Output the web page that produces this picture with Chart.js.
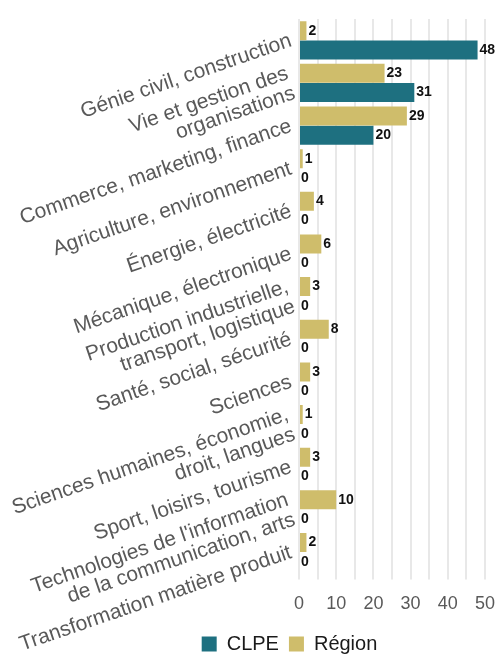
<!DOCTYPE html>
<html>
<head>
<meta charset="utf-8">
<script src="https://cdn.jsdelivr.net/npm/chart.js@4.4.1/dist/chart.umd.min.js"></script>
<style>
  html, body { margin: 0; padding: 0; background: #fff; }
  #wrap { width: 497px; height: 657px; position: relative; }
</style>
</head>
<body>
<div id="wrap"><canvas id="myChart"></canvas></div>
<script>
'use strict';

const categories = [
    'Génie civil, construction',
    ['Vie et gestion des', 'organisations'],
    'Commerce, marketing, finance',
    'Agriculture, environnement',
    'Énergie, électricité',
    'Mécanique, électronique',
    ['Production industrielle,', 'transport, logistique'],
    'Santé, social, sécurité',
    'Sciences',
    ['Sciences humaines, économie,', 'droit, langues'],
    'Sport, loisirs, tourisme',
    ["Technologies de l'information", 'de la communication, arts'],
    'Transformation matière produit',
];
const regionValues = [2, 23, 29, 1, 4, 6, 3, 8, 3, 1, 3, 10, 2];
const clpeValues = [48, 31, 20, 0, 0, 0, 0, 0, 0, 0, 0, 0, 0];
const xTicks = [0, 10, 20, 30, 40, 50];

const labelFont = 'Liberation Sans, Arial, sans-serif';

// value written at the end of each bar
const barValues = {
    id: 'barValues',
    afterDatasetsDraw(chart) {
        const ctx = chart.ctx;
        ctx.save();
        ctx.font = 'bold 14px ' + labelFont;
        ctx.fillStyle = '#111';
        ctx.textAlign = 'left';
        ctx.textBaseline = 'middle';
        chart.data.datasets.forEach((ds, i) => {
            const meta = chart.getDatasetMeta(i);
            meta.data.forEach((bar, j) => {
                ctx.fillText(ds.data[j], bar.x + 2, bar.y);
            });
        });
        ctx.restore();
    }
};

// legend sits a bit right of the canvas centre
const legendShift = {
    id: 'legendShift',
    afterLayout(chart) {
        if (chart.legend) {
            chart.legend.left += 41;
            chart.legend.right += 41;
            chart.legend.top -= 5;
            chart.legend.bottom -= 5;
        }
    }
};

const config = {
    type: 'bar',
    data: {
        labels: categories,
        datasets: [{
            label: 'Région',
            data: regionValues,
            backgroundColor: '#cfbd6b',
            categoryPercentage: 0.9,
            barPercentage: 0.99,
        }, {
            label: 'CLPE',
            data: clpeValues,
            backgroundColor: '#1e7080',
            categoryPercentage: 0.9,
            barPercentage: 0.99,
        }]
    },
    options: {
        indexAxis: 'y',
        responsive: true,
        maintainAspectRatio: false,
        animation: false,
        layout: { padding: { left: 0, right: 0, top: 19, bottom: -12 } },
        scales: {
            x: {
                min: 0,
                max: 50,
                border: { display: false },
                grid: { color: '#e8e8e8', lineWidth: 2, tickLength: 6 },
                ticks: {
                    stepSize: 5,
                    padding: 14,
                    autoSkip: false,
                    minRotation: 0,
                    maxRotation: 0,
                    color: '#595959',
                    font: { family: labelFont, size: 18 },
                    callback: function(value) {
                        return xTicks.includes(value) ? value : '';
                    }
                },
                afterFit: function(scale) {
                    // only half of the "50" label needs room on the right
                    scale.paddingRight = 12;
                }
            },
            y: {
                border: { display: false },
                grid: { display: false, drawTicks: false },
                ticks: {
                    autoSkip: false,
                    minRotation: 19,
                    maxRotation: 19,
                    padding: 8,
                    color: '#595959',
                    font: { family: labelFont, size: 21, lineHeight: 1.0 },
                },
                afterFit: function(scale) {
                    scale.width = 299;
                }
            }
        },
        plugins: {
            tooltip: { enabled: false },
            legend: {
                position: 'bottom',
                reverse: true,
                labels: {
                    boxWidth: 15,
                    boxHeight: 15,
                    padding: 10,
                    color: '#1a1a1a',
                    font: { family: labelFont, size: 20 }
                }
            }
        }
    },
    plugins: [barValues, legendShift]
};

const myChart = new Chart(document.getElementById('myChart'), config);
</script>
</body>
</html>
